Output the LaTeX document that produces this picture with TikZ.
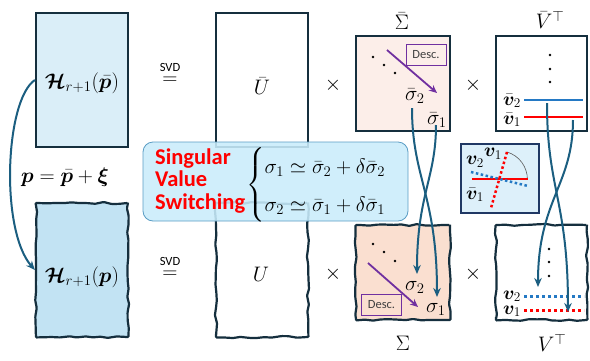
\RequirePackage{fix-cm}
\documentclass[tikz,border=0pt]{standalone}
\usepackage{amsmath,bm}
\usepackage{fontspec}
\newfontfamily\calib{Carlito}
\usetikzlibrary{decorations.pathmorphing,arrows.meta}
\definecolor{edge}{HTML}{152F3E}
\definecolor{conncol}{HTML}{1B5E80}
\definecolor{hbar}{HTML}{DAEEF8}
\definecolor{hnew}{HTML}{C2E3F3}
\definecolor{sbar}{HTML}{FCEEE9}
\definecolor{snew}{HTML}{FADFD0}
\definecolor{callfill}{HTML}{C9ECFB}
\definecolor{callline}{HTML}{5B9DC4}
\definecolor{insetfill}{HTML}{DDF0FA}
\definecolor{insetline}{HTML}{203864}
\definecolor{purp}{HTML}{7030A0}
\definecolor{vred}{HTML}{FF0000}
\definecolor{vblue}{HTML}{2479C4}
\definecolor{desctext}{HTML}{404040}
\begin{document}
\begin{tikzpicture}[x=1pt,y=-1pt,
  font=\fontsize{21}{25}\selectfont,
  sbox/.style={draw=edge, line width=2.2pt, inner sep=0pt},
  wbox/.style={draw=edge, line width=2.2pt, inner sep=0pt, decorate,
    decoration={random steps, segment length=8pt, amplitude=1.1pt}, rounded corners=0.8pt},
  lab/.style={inner sep=0pt},
  vlab/.style={inner sep=0pt, font=\fontsize{19}{22}\selectfont},
  conn/.style={draw=conncol, line width=2pt, -{Stealth[length=9pt,width=7.5pt]}},
  desc/.style={draw=purp, line width=1pt, text=desctext, inner sep=0pt,
    font=\calib\fontsize{12.5}{14}\selectfont, minimum width=40pt, minimum height=21pt},
  descarrow/.style={draw=purp, line width=1.8pt, -{Stealth[length=8pt,width=7pt]}},
  svdlab/.style={inner sep=0pt, font=\calib\fontsize{12.5}{14}\selectfont},
  vsolid/.style={line width=2.4pt},
  vdot/.style={line width=3pt, dash pattern=on 3pt off 3pt},
]
\pgfmathsetseed{4213}
\useasboundingbox (0,0) rectangle (590,360);

% ---------- top row ----------
\node[sbox, fill=hbar, minimum width=92pt, minimum height=134pt] (Hbar) at (82,80) {};
\node[lab] (Hbartxt) at (82,83) {$\bm{\mathcal{H}}_{r+1}(\bar{\bm p})$};
\node[lab] (eqtop) at (170,81) {$=$};
\node[svdlab] (svdtop) at (170,67) {SVD};
\node[sbox, fill=white, minimum width=92pt, minimum height=134pt] (Ubar) at (262,80) {};
\node[lab] (Ubartxt) at (262,86) {$\bar U$};
\node[lab] (times1) at (333,85) {$\times$};
\node[sbox, fill=sbar, minimum width=94pt, minimum height=95pt] (Sbar) at (403,83.5) {};
\node[lab] (Sbarlab) at (402,21) {$\bar\Sigma$};
\node[lab] (times2) at (473,85) {$\times$};
\node[sbox, fill=white, minimum width=91pt, minimum height=95pt] (Vbar) at (541.5,83.5) {};
\node[lab] (Vbarlab) at (550,20) {$\bar V^{\top}$};

% Sigma bar content
\fill[black] (373,57) circle (1.3) (384,65) circle (1.3) (395,73) circle (1.3);
\node[desc] (desctop) at (426,54.5) {Desc.};
\coordinate (dta) at (387,50);
\coordinate (dtb) at (437,93);
\draw[descarrow] (dta) -- (dtb);
\node[lab, anchor=base west] (sb2) at (405,100) {$\bar\sigma_2$};
\node[lab, anchor=base west] (sb1) at (427,124) {$\bar\sigma_1$};

% V bar content
\fill[black] (550,55) circle (1.3) (550,69) circle (1.3) (550,82) circle (1.3);
\node[vlab, anchor=base east] (vb2) at (521,105) {$\bar{\bm v}_2$};
\node[vlab, anchor=base east] (vb1) at (521,124) {$\bar{\bm v}_1$};
\coordinate (vb2a) at (524,100);
\coordinate (vb2b) at (583,100);
\coordinate (vb1a) at (524,117);
\coordinate (vb1b) at (583,117);
\draw[vsolid, vblue] (vb2a) -- (vb2b);
\draw[vsolid, vred] (vb1a) -- (vb1b);

% ---------- bottom row ----------
\node[wbox, fill=hnew, minimum width=92pt, minimum height=134pt] (H) at (82,270) {};
\node[lab] (Htxt) at (82,277) {$\bm{\mathcal{H}}_{r+1}(\bm p)$};
\node[lab] (eqbot) at (170,275) {$=$};
\node[svdlab] (svdbot) at (170,261) {SVD};
\node[wbox, fill=white, minimum width=92pt, minimum height=134pt] (U) at (262,270) {};
\node[lab] (Utxt) at (261,274) {$U$};
\node[lab] (times3) at (333,274) {$\times$};
\node[wbox, fill=snew, minimum width=94pt, minimum height=95pt] (S) at (403,272.5) {};
\node[lab] (Slab) at (403,343) {$\Sigma$};
\node[lab] (times4) at (473,274) {$\times$};
\node[wbox, fill=white, minimum width=91pt, minimum height=95pt] (V) at (541.5,272.5) {};
\node[lab] (Vlab) at (552,343) {$V^{\top}$};

% Sigma content
\fill[black] (373,244) circle (1.3) (384,252) circle (1.3) (395,261) circle (1.3);
\node[desc] (descbot) at (381.5,305) {Desc.};
\coordinate (dba) at (368,263);
\coordinate (dbb) at (418,307);
\draw[descarrow] (dba) -- (dbb);
\node[lab, anchor=base west] (s2) at (405,290) {$\sigma_2$};
\node[lab, anchor=base west] (s1) at (426,312) {$\sigma_1$};

% V content
\fill[black] (549,249) circle (1.3) (549,262) circle (1.3) (549,276) circle (1.3);
\node[vlab, anchor=base east] (v2) at (521,299) {$\bm v_2$};
\node[vlab, anchor=base east] (v1) at (521,314) {$\bm v_1$};
\coordinate (v2a) at (524,296);
\coordinate (v2b) at (584,296);
\coordinate (v1a) at (524,310);
\coordinate (v1b) at (584,310);
\draw[vdot, vblue] (v2a) -- (v2b);
\draw[vdot, vred] (v1a) -- (v1b);

% ---------- left arrow ----------
\node[lab] (ptxt) at (65,177) {$\bm p = \bar{\bm p} + \bm\xi$};
\draw[conn] (Hbar.west) .. controls (5,100) and (0,230) .. (H.west);

% ---------- callout ----------
\node[draw=callline, line width=0.8pt, fill=callfill, fill opacity=0.88, rounded corners=10pt,
      minimum width=265pt, minimum height=79pt, inner sep=0pt] (callout) at (275.5,181.5) {};
\node[anchor=west, align=left, text=red, inner sep=0pt,
      font=\calib\bfseries\fontsize{22.5}{22.5}\selectfont] (svs) at (155,181) {Singular\\Value\\Switching};
\node[anchor=west, inner sep=0pt] (eqs) at (246,185)
  {$\renewcommand{\arraystretch}{1.5}\left\{\begin{array}{@{}l@{}}
     \sigma_1 \simeq \bar\sigma_2 + \delta\bar\sigma_2\\
     \sigma_2 \simeq \bar\sigma_1 + \delta\bar\sigma_1
   \end{array}\right.$};

% ---------- inset ----------
\node[draw=insetline, line width=1.2pt, fill=insetfill, minimum width=78pt, minimum height=69pt, inner sep=0pt] (insetbox) at (500,178.5) {};
\coordinate (ira) at (472,179);
\coordinate (irb) at (528,179);
\coordinate (iba) at (471,172);
\coordinate (ibb) at (528,186);
\coordinate (ida) at (507,152);
\coordinate (idb) at (491,208);
\draw[gray!70!black, line width=0.6pt] (ida) arc[start angle=-73.5, end angle=0, radius=28.5];
\draw[vred, line width=2pt] (ira) -- (irb);
\draw[vblue, line width=2.5pt, dash pattern=on 2.5pt off 2.5pt] (iba) -- (ibb);
\draw[vred, line width=2.5pt, dash pattern=on 2.5pt off 2.5pt] (ida) -- (idb);
\node[vlab] (iv1) at (493,154) {$\bm v_1$};
\node[vlab] (iv2) at (475,162) {$\bm v_2$};
\node[vlab] (ivb1) at (475,195) {$\bar{\bm v}_1$};

% ---------- crossing connectors ----------
\coordinate (cA0) at (412,108);
\coordinate (cA1) at (437,297);
\coordinate (cB0) at (436,125);
\coordinate (cB1) at (417,274);
\draw[conn] (cA0) .. controls (412,178) and (437,195) .. (cA1);
\draw[conn] (cB0) .. controls (436,178) and (417,195) .. (cB1);
\coordinate (cC0) at (547,103);
\coordinate (cC1) at (568,312);
\coordinate (cD0) at (573,120);
\coordinate (cD1) at (538,287);
\draw[conn] (cC0) .. controls (547,190) and (568,200) .. (cC1);
\draw[conn] (cD0) .. controls (573,185) and (538,200) .. (cD1);
\end{tikzpicture}
\end{document}
